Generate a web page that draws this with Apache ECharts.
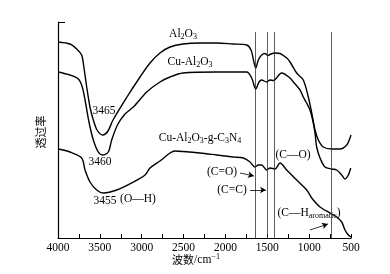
<!DOCTYPE html>
<html>
<head>
<meta charset="utf-8">
<script src="https://cdn.jsdelivr.net/npm/echarts@6/dist/echarts.min.js"></script>
<style>
  html, body { margin: 0; padding: 0; background: #fff; }
  #chart { width: 390px; height: 274px; }
</style>
</head>
<body>
<div id="chart"></div>
<script>
// FTIR spectra, wavenumber (cm-1) vs relative transmittance (arbitrary units)
var al2o3 = [
  [4000,196],[3857,194],[3777,189],[3717,183],[3698,175],[3657,151],[3618,131],[3578,118],
  [3534,108],[3466,103],[3403,107],[3343,118],[3176,141],[3020,161],[2901,175],[2782,185],
  [2662,191],[2507,194],[2304,195],[2104,195],[1910,194],[1746,193],[1694,188],[1665,178],
  [1638,170],[1607,178],[1567,183],[1527,184.5],[1491,182.5],[1456,184],[1408,185],[1348,184.5],
  [1268,180],[1228,176],[1149,165],[1070,158],[1010,141],[969,125],[930,108],[890,98],
  [831,91],[730,89],[631,89],[551,93],[512,100],[500,103]
];
var cuAl2o3 = [
  [4000,166],[3857,163],[3757,159],[3710,151],[3677,138],[3630,116],[3578,98],[3519,86],
  [3466,83],[3399,86],[3359,98],[3290,113],[3200,124],[3100,131],[2940,146],[2782,156],
  [2662,161],[2507,165],[2104,166],[1746,166],[1686,160],[1638,149],[1599,156],[1567,158],
  [1507,156],[1467,158],[1428,157.5],[1328,165],[1228,160],[1189,156],[1109,148],[1070,141],
  [1037,136],[990,128],[950,115],[930,105],[910,91],[870,80],[811,71],[730,69],
  [671,68],[611,63],[572,59],[532,63],[503,70]
];
var cuAl2o3C3n4 = [
  [4000,89],[3857,86],[3717,80],[3677,68],[3618,56],[3538,48],[3459,45],[3299,48],
  [3100,56],[2960,63],[2901,70],[2782,77],[2662,85],[2602,87],[2503,86.5],[2304,85],
  [2104,83],[1906,81],[1786,80],[1706,76],[1647,71],[1607,73],[1567,73],[1507,68],
  [1467,70],[1408,69],[1348,75],[1268,68],[1149,58],[1029,48],[969,40],[870,31],
  [751,25],[671,21],[611,16],[572,8],[532,3],[500,1]
];
var peakLines = [1638, 1495, 1416, 731];
var peakTop = 206;
// annotation arrows: [from, to] in wavenumber / transmittance
var arrows = [
  [[1826,65],[1659,62]],
  [[1706,48],[1515,48]],
  [[990,8],[775,14]]
];

var serif = '"Liberation Serif", "DejaVu Serif", serif';
var cjk = '"Noto Sans CJK SC", sans-serif';
var fs = 11.5;
var rich = {
  n: { fontSize: fs, fontFamily: serif, lineHeight: 14, verticalAlign: 'middle', color: '#000' },
  s: { fontSize: 8, fontFamily: serif, lineHeight: 8, verticalAlign: 'bottom', color: '#000' },
  c: { fontSize: 11, fontFamily: cjk, lineHeight: 14, color: '#000' },
  u: { fontSize: 8, fontFamily: serif, lineHeight: 8, verticalAlign: 'top', color: '#000' }
};

function label(x, y, text) {
  return {
    type: 'text', x: x, y: y, silent: true,
    style: { text: text, rich: rich, textAlign: 'center', textVerticalAlign: 'middle', fill: '#000' }
  };
}

var chart = echarts.init(document.getElementById('chart'));
var curveStyle = { color: '#000', width: 1.4 };

chart.setOption({
  animation: false,
  grid: { left: 58, right: 39, top: 22, bottom: 36 },
  xAxis: {
    type: 'value', inverse: true, min: 500, max: 4000, interval: 500,
    axisLine: { lineStyle: { color: '#000', width: 1.2 } },
    axisTick: { inside: true, length: 4, lineStyle: { color: '#000' } },
    minorTick: { show: true, splitNumber: 2, length: 4, lineStyle: { color: '#000' } },
    axisLabel: {
      color: '#000', fontFamily: serif, fontSize: fs, margin: 4,
      formatter: function (v) { return String(v); }
    },
    splitLine: { show: false }
  },
  yAxis: {
    type: 'value', min: 0, max: 216, interval: 216,
    axisLine: { show: true, lineStyle: { color: '#000', width: 1.2 } },
    axisTick: { show: true, inside: true, length: 7, lineStyle: { color: '#000' } },
    axisLabel: { show: false },
    splitLine: { show: false }
  },
  series: [
    {
      name: 'Al2O3', type: 'line', data: al2o3, smooth: 0.3, showSymbol: false,
      lineStyle: curveStyle,
      markLine: {
        silent: true, symbol: 'none',
        lineStyle: { color: '#333', width: 0.8, type: 'solid' },
        label: { show: false },
        data: peakLines.map(function (w) { return [{ coord: [w, 0] }, { coord: [w, peakTop] }]; })
      }
    },
    {
      name: 'Cu-Al2O3', type: 'line', data: cuAl2o3, smooth: 0.3, showSymbol: false,
      lineStyle: curveStyle
    },
    {
      name: 'Cu-Al2O3-g-C3N4', type: 'line', data: cuAl2o3C3n4, smooth: 0.3, showSymbol: false,
      lineStyle: curveStyle,
      markLine: {
        silent: true, symbol: ['none', 'arrow'], symbolSize: [5, 6],
        lineStyle: { color: '#000', width: 0.8, type: 'solid' },
        label: { show: false },
        data: arrows.map(function (a) { return [{ coord: a[0] }, { coord: a[1] }]; })
      }
    }
  ],
  graphic: [
    label(183, 34, '{n|Al}{s|2}{n|O}{s|3}'),
    label(190, 62, '{n|Cu-Al}{s|2}{n|O}{s|3}'),
    label(104, 111, '{n|3465}'),
    label(100, 162, '{n|3460}'),
    label(105, 201, '{n|3455}'),
    label(138, 199, '{n|(O—H)}'),
    label(200, 138, '{n|Cu-Al}{s|2}{n|O}{s|3}{n|-g-C}{s|3}{n|N}{s|4}'),
    label(293, 155, '{n|(C—O)}'),
    label(222, 172, '{n|(C=O)}'),
    label(232, 190, '{n|(C=C)}'),
    label(309, 213, '{n|(C—H}{s|aromatic}{n|)}'),
    label(196, 260, '{c|波数}{n|/cm}{u|−1}'),
    {
      type: 'text', x: 41, y: 132, rotation: Math.PI / 2, silent: true,
      style: { text: '透过率', font: '11px ' + cjk, fill: '#000', textAlign: 'center', textVerticalAlign: 'middle' }
    }
  ]
});
</script>
</body>
</html>
